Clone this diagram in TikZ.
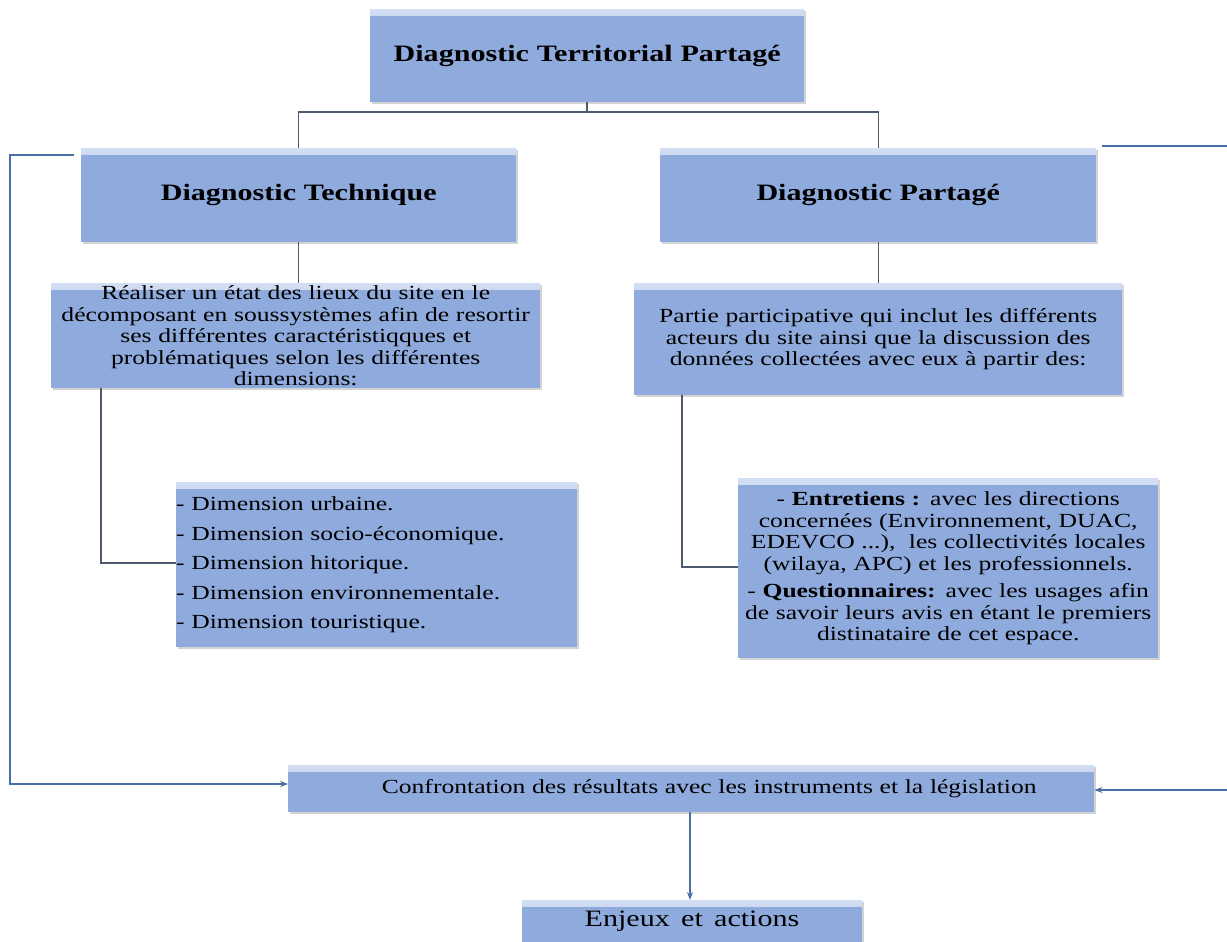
\documentclass[tikz,border=0pt]{standalone}
\usepackage{fontspec}
\setmainfont[FakeStretch=1.28,WordSpace={1.5,1.2,1}]{Liberation Serif}
\usetikzlibrary{shadows,arrows.meta}
\definecolor{boxblue}{HTML}{8FAADC}
\definecolor{boxlight}{HTML}{D2DEF3}
\definecolor{treeline}{HTML}{4D5A6E}
\definecolor{fbline}{HTML}{4A6FA5}
\begin{document}
\begin{tikzpicture}[x=1pt,y=-1pt,
  bx/.style={rectangle, fill=boxblue, inner sep=0pt, anchor=north west, align=center,
    drop shadow={shadow xshift=1.5pt,shadow yshift=-1.5pt,opacity=0.35},
    path picture={\fill[top color=boxlight,bottom color=boxblue]
      (path picture bounding box.north west) rectangle ([yshift=-6pt]path picture bounding box.north east);}},
  bodyf/.style={font=\fontsize{20}{21.5}\selectfont},
  headf/.style={font=\fontsize{23.5}{28}\selectfont\bfseries},
  tree/.style={draw=treeline, line width=1.2pt},
  fb/.style={draw=fbline, line width=1.1pt},
  fbarrow/.style={fb, -{Stealth[length=8pt,width=6pt]}}
]
\useasboundingbox (0,0) rectangle (1227,942);

% boxes
\node[bx, headf, minimum width=434pt, minimum height=93pt, text width=434pt] (top) at (370,9) {Diagnostic Territorial Partagé};
\node[bx, headf, minimum width=435pt, minimum height=94pt, text width=435pt] (tech) at (81,148) {Diagnostic Technique};
\node[bx, headf, minimum width=436pt, minimum height=94pt, text width=436pt] (part) at (660,148) {Diagnostic Partagé};
\node[bx, bodyf, minimum width=489pt, minimum height=105pt, text width=489pt] (real) at (51,283) {%
  Réaliser un état des lieux du site en le\\
  décomposant en soussystèmes afin de resortir\\
  ses différentes caractéristiqques et\\
  problématiques selon les différentes\\
  dimensions:};
\node[bx, bodyf, minimum width=488pt, minimum height=112pt, text width=488pt] (parti) at (634,283) {%
  Partie participative qui inclut les différents\\
  acteurs du site ainsi que la discussion des\\
  données collectées avec eux à partir des:};
\node[bx, font=\fontsize{20}{29.5}\selectfont, minimum width=401pt, minimum height=165pt, text width=401pt, align=left] (dim) at (176,482) {%
  - Dimension urbaine.\\
  - Dimension socio-économique.\\
  - Dimension hitorique.\\
  - Dimension environnementale.\\
  - Dimension touristique.};
\node[bx, bodyf, minimum width=420pt, minimum height=180pt, text width=420pt] (entr) at (738,478) {%
  - \textbf{Entretiens :} avec les directions\\
  concernées (Environnement, DUAC,\\
  EDEVCO ...),~ les collectivités locales\\
  (wilaya, APC) et les professionnels.\\[6pt]
  - \textbf{Questionnaires:} avec les usages afin\\
  de savoir leurs avis en étant le premiers\\
  distinataire de cet espace.};
\node[bx, bodyf, minimum width=806pt, minimum height=47pt, text width=806pt] (conf) at (288,765) {\hspace*{36pt}Confrontation des résultats avec les instruments et la législation};
\node[bx, minimum width=340pt, minimum height=60pt] (enj) at (522,900) {};
\node[font=\fontsize{23.5}{28}\selectfont, inner sep=0pt] (enjt) at (692,921) {Enjeux et actions};

% tree connectors
\coordinate (j1) at (587,112);
\draw[tree] (top.south -| j1) -- (j1);
\draw[tree] (tech.north) |- (j1) -| (part.north);
\draw[tree] (tech.south) -- (tech.south |- real.north);
\draw[tree] (part.south) -- (parti.north);
\coordinate (rb) at (101,388);
\draw[tree] (rb) |- (dim.west |- 0,563);
\coordinate (pb) at (682,395);
\draw[tree] (pb) |- (entr.west |- 0,567);

% feedback connectors
\coordinate (la) at (74,155);
\draw[fbarrow] (la) -- (10,155) -- (10,784) -- (conf.west |- 0,784);
\coordinate (ra) at (1102,146);
\draw[fbarrow] (ra) -- (1240,146) -- (1240,790) -- (conf.east |- 0,790);
\draw[fbarrow] (conf.south -| 690,0) -- (enj.north -| 690,0);
\end{tikzpicture}
\end{document}
